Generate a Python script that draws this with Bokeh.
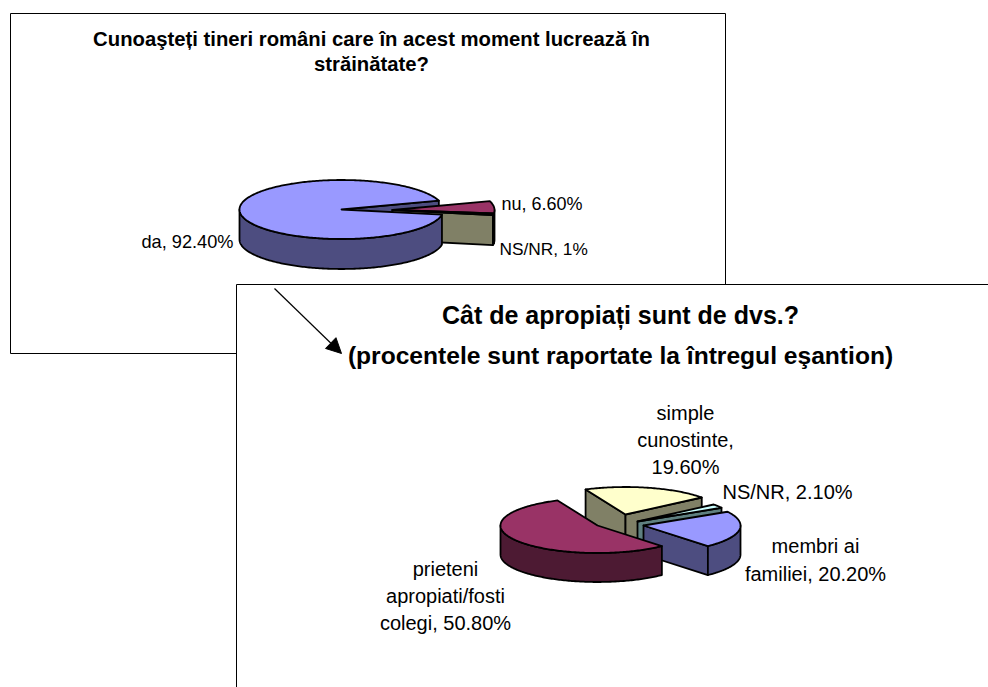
import numpy as np
from bokeh.plotting import figure
from bokeh.models import Range1d, Arrow, NormalHead
from bokeh.core.properties import value
from bokeh.embed import file_html
from bokeh.resources import INLINE

# ---- data ----
chart1_title = ["Cunoaşteți tineri români care în acest moment lucrează în", "străinătate?"]
chart1_categories = ["da", "nu", "NS/NR"]
chart1_values = [92.4, 6.6, 1.0]
chart1_labels = ["da, 92.40%", "nu, 6.60%", "NS/NR, 1%"]

chart2_title = ["Cât de apropiați sunt de dvs.?", "(procentele sunt raportate la întregul eşantion)"]
chart2_categories = ["simple cunostinte", "NS/NR", "membri ai familiei", "prieteni apropiati/fosti colegi"]
chart2_values = [19.6, 2.1, 20.2, 50.8]
chart2_labels = [["simple", "cunostinte,", "19.60%"], ["NS/NR, 2.10%"], ["membri ai", "familiei, 20.20%"],
                 ["prieteni", "apropiati/fosti", "colegi, 50.80%"]]

# ---- styles ----
BLUE, BLUE_D = "#9999FF", "#4D4D80"
MAROON, MAROON_D = "#993366", "#4D1A33"
CREAM, CREAM_D = "#FFFFCC", "#808066"
TEAL, TEAL_D = "#CCFFFF", "#5F8080"
FONT = value("Liberation Sans")

W, H = 988, 687
p = figure(width=W, height=H, output_backend="svg", toolbar_location=None,
           x_range=Range1d(0, W), y_range=Range1d(H, 0),
           x_axis_type=None, y_axis_type=None, min_border=0, outline_line_color=None)
p.grid.visible = False
p.background_fill_color = "white"
p.border_fill_color = "white"


def pt(c, r, t, dz=0):
    a = np.radians(t)
    return c[0] + r[0] * np.sin(a), c[1] - r[1] * np.cos(a) + dz


def arc(c, r, a, b, dz=0):
    ts = np.linspace(a, b, max(3, int(abs(b - a)) + 2))
    return [pt(c, r, t, dz) for t in ts]


def poly(points, fill, lw=1.8):
    xs, ys = zip(*points)
    p.patch(list(xs), list(ys), fill_color=fill, line_color="black", line_width=lw, line_join="round")


def faces(c, r, a, b, depth, wall):
    # a cut face shows when it looks towards the viewer
    for t, show in ((a, np.sin(np.radians(a)) < 0), (b, np.sin(np.radians(b)) > 0)):
        if show:
            e = pt(c, r, t)
            poly([c, e, (e[0], e[1] + depth), (c[0], c[1] + depth)], wall)


def rim(c, r, a, b, depth, wall):
    # the outer wall, front half of the ellipse only (t in 90..270, modulo 360)
    for k in (-360, 0, 360):
        lo, hi = max(a, 90 + k), min(b, 270 + k)
        if lo < hi:
            poly(arc(c, r, lo, hi) + arc(c, r, hi, lo, depth), wall)


def top(c, r, a, b, fill):
    poly([c] + arc(c, r, a, b), fill)


def spans(vals, start):
    total = sum(vals)
    out, t = [], start
    for v in vals:
        out.append((t, t + v / total * 360))
        t += v / total * 360
    return out


def frame(x0, y0, x1, y1):
    p.patch([x0, x1, x1, x0], [y0, y0, y1, y1], fill_color="white", line_color="black", line_width=1)


def text(x, y, s, size, align="center", bold=False):
    p.text([x], [y], text=[s], text_font=FONT, text_font_size=f"{size}px", text_align=align,
           text_baseline="middle", text_color="black", text_font_style="bold" if bold else "normal")


# ---- first chart ----
frame(10, 13, 725, 353)
text(371, 38, chart1_title[0], 20.3, bold=True)
text(371, 63, chart1_title[1], 20.3, bold=True)

R1, D1 = (102, 29.5), 30
C_DA, C_EXP = (341, 209), (392, 209.5)
s1 = spans(chart1_values, 100)
faces(C_DA, R1, *s1[0], D1, BLUE_D)
faces(C_EXP, R1, *s1[1], D1, MAROON_D); rim(C_EXP, R1, *s1[1], D1, MAROON_D); top(C_EXP, R1, *s1[1], MAROON)
faces(C_EXP, R1, *s1[2], D1, CREAM_D); rim(C_EXP, R1, *s1[2], D1, CREAM_D); top(C_EXP, R1, *s1[2], CREAM)
rim(C_DA, R1, *s1[0], D1, BLUE_D); top(C_DA, R1, *s1[0], BLUE)

text(141, 241, chart1_labels[0], 18.2, "left")
text(501, 203, chart1_labels[1], 18, "left")
text(499, 248, chart1_labels[2], 17.3, "left")

# ---- second chart ----
frame(236, 284, 1000, 720)
text(620, 314, chart2_title[0], 25, bold=True)
text(620, 355, chart2_title[1], 24.6, bold=True)

R2, D2 = (97, 27.5), 29
centres = [(625, 514), (637, 521), (643, 525), (597, 525)]
tops = [CREAM, TEAL, BLUE, MAROON]
walls = [CREAM_D, TEAL_D, BLUE_D, MAROON_D]
s2 = spans(chart2_values, -24.3)
for c, (a, b), ft, wl in zip(centres, s2, tops, walls):
    faces(c, R2, a, b, D2, wl)
    rim(c, R2, a, b, D2, wl)
    top(c, R2, a, b, ft)

for (x, ys, al), lines in zip([(685, (412, 439, 466), "center"), (722, (491,), "left"),
                               (815, (545, 573), "center"), (445, (568, 595, 622), "center")], chart2_labels):
    for y, s in zip(ys, lines):
        text(x, y, s, 20, al)

# ---- arrow linking the two charts ----
p.add_layout(Arrow(end=NormalHead(size=15, fill_color="black", line_color="black"),
                   x_start=274, y_start=288, x_end=341, y_end=353, line_color="black", line_width=1.2))

open("out.html", "w").write(file_html(p, INLINE))
